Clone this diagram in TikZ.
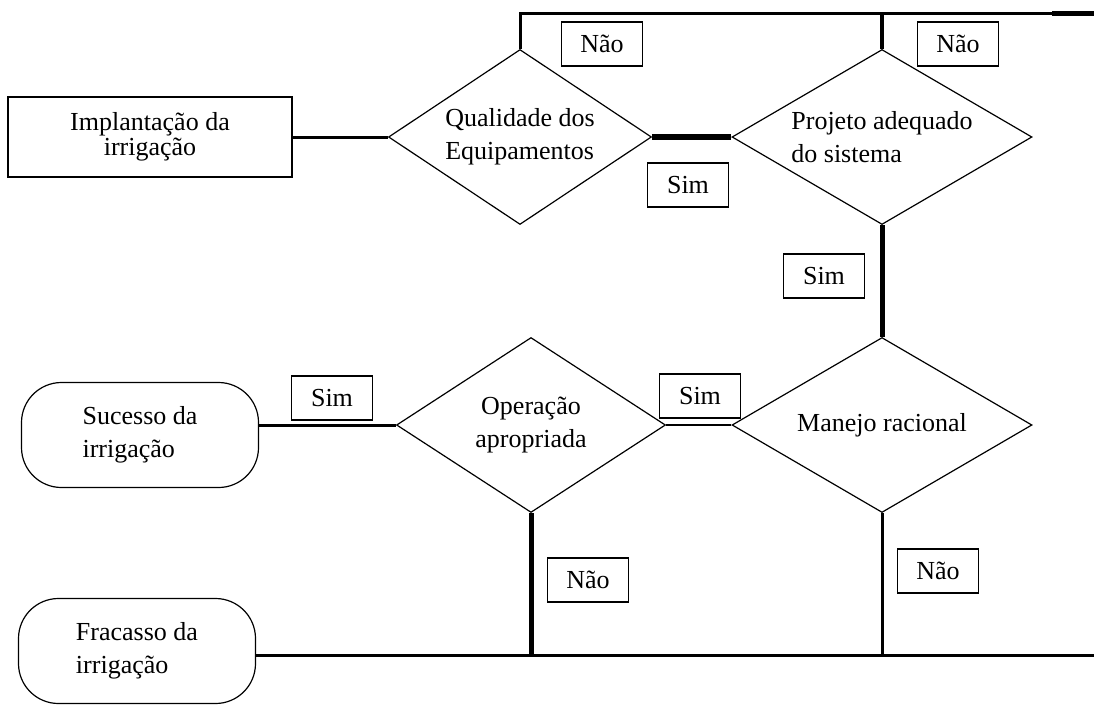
\documentclass[tikz,border=0pt]{standalone}
\usepackage{fontspec}
\setmainfont{Liberation Serif}
\usetikzlibrary{positioning,shapes.geometric}

\begin{document}
\begin{tikzpicture}[x=1pt,y=-1pt,font=\fontsize{26}{33}\selectfont,
    decision/.style={diamond,aspect=1.75,draw,line width=1.2pt,inner sep=0pt,align=left,minimum height=175pt},
    terminal/.style={rectangle,rounded corners=40pt,draw,line width=1.2pt,minimum width=237pt,minimum height=105pt,align=left},
    tag/.style={rectangle,draw,line width=1.2pt,minimum width=81pt,minimum height=44pt,inner sep=0pt},
    link/.style={line width=3pt},
    boldlink/.style={line width=5pt}]
    \useasboundingbox (0,0) rectangle (1094,704);
    \node[rectangle,draw,line width=1.2pt,minimum width=284pt,minimum height=80pt,align=center,font=\fontsize{26}{25}\selectfont] (impl) at (150,137) {Implantação da\\irrigação};
    \node[decision,minimum width=263pt] (qual) at (520,137) {Qualidade dos\\Equipamentos};
    \node[decision,minimum width=300pt] (proj) at (882,137) {Projeto adequado\\do sistema};
    \node[decision,minimum width=269pt,align=center] (oper) at (531,425) {Operação\\apropriada};
    \node[decision,minimum width=300pt] (manejo) at (882,425) {Manejo racional};
    \node[terminal] (sucesso) at (140,435) {Sucesso da\\irrigação};
    \node[terminal] (fracasso) at (137,651) {Fracasso da\\irrigação};
    \coordinate (topend) at (1094,13);
    \coordinate (botend) at (1094,655);
    %
    \draw[link] (impl) -- (qual);
    \draw[boldlink,line width=6pt] (qual) -- (proj);
    \draw[link] (qual.north) |- (topend);
    \draw[boldlink] (topend) -- ++(-42,0);
    \draw[line width=4pt] (proj.north) -- (proj.north |- topend);
    \draw[boldlink] (proj) -- (manejo);
    \draw[line width=1.5pt] (oper) -- (manejo);
    \draw[link] (sucesso.east |- oper.west) -- (oper.west);
    \draw[link] (fracasso.east |- botend) -- (botend);
    \draw[boldlink] (oper.south) -- (oper.south |- botend);
    \draw[link] (manejo.south) -- (manejo.south |- botend);
    %
    \node[tag] (nao1) at (602,44) {Não};
    \node[tag] (nao2) at (958,44) {Não};
    \node[tag] (sim1) at (688,185) {Sim};
    \node[tag] (sim2) at (824,276) {Sim};
    \node[tag] (sim3) at (700,396) {Sim};
    \node[tag] (sim4) at (332,398) {Sim};
    \node[tag] (nao3) at (588,580) {Não};
    \node[tag] (nao4) at (938,571) {Não};
\end{tikzpicture}
\end{document}
